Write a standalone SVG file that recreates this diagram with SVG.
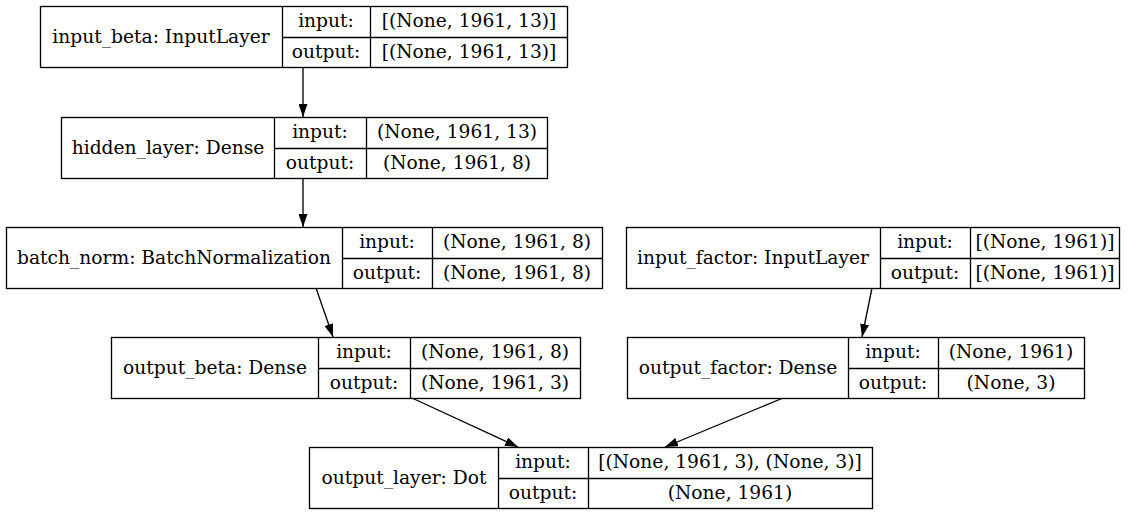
<svg xmlns="http://www.w3.org/2000/svg" width="1137" height="516" viewBox="0 0 1137 516">
<style>
.b{fill:#fff;stroke:#000;stroke-width:1.33}
.l{stroke:#000;stroke-width:1.33;fill:none}
text{font-family:"DejaVu Serif",serif;font-size:18.67px;text-anchor:middle;fill:#000}
.e{stroke:#000;stroke-width:1.33;fill:none;marker-end:url(#ah)}
</style>
<defs>
<marker id="ah" viewBox="0 0 13 9" refX="13" refY="4.5" markerWidth="13" markerHeight="9" markerUnits="userSpaceOnUse" orient="auto">
<path d="M0,0 L13,4.5 L0,9 Z" fill="#000"/>
</marker>
</defs>
<rect width="1137" height="516" fill="#fff"/>
<g id="connectors">
<line class="e" x1="303" y1="67" x2="303" y2="117"/>
<line class="e" x1="303" y1="178" x2="303" y2="227"/>
<line class="e" x1="316" y1="288" x2="333" y2="337"/>
<line class="e" x1="872" y1="288" x2="862" y2="337"/>
<line class="e" x1="412" y1="398" x2="518" y2="447"/>
<line class="e" x1="783" y1="398" x2="665" y2="447"/>
</g>
<g id="input_beta">
<rect class="b" x="40.5" y="6.5" width="527" height="61"/>
<path class="l" d="M282.5,6.5V67.5M370.5,6.5V67.5M282.5,37.5H567.5"/>
<text x="161" y="43">input_beta: InputLayer</text>
<text x="326" y="27">input:</text>
<text x="326" y="58">output:</text>
<text x="469" y="27">[(None, 1961, 13)]</text>
<text x="469" y="58">[(None, 1961, 13)]</text>
</g>
<g id="hidden_layer">
<rect class="b" x="61.5" y="117.5" width="486" height="61"/>
<path class="l" d="M274.5,117.5V178.5M366.5,117.5V178.5M274.5,148.5H547.5"/>
<text x="168" y="154">hidden_layer: Dense</text>
<text x="320" y="138">input:</text>
<text x="320" y="169">output:</text>
<text x="457" y="138">(None, 1961, 13)</text>
<text x="457" y="169">(None, 1961, 8)</text>
</g>
<g id="batch_norm">
<rect class="b" x="6.5" y="227.5" width="596" height="61"/>
<path class="l" d="M342.5,227.5V288.5M432.5,227.5V288.5M342.5,258.5H602.5"/>
<text x="174" y="264">batch_norm: BatchNormalization</text>
<text x="387" y="248">input:</text>
<text x="387" y="279">output:</text>
<text x="517" y="248">(None, 1961, 8)</text>
<text x="517" y="279">(None, 1961, 8)</text>
</g>
<g id="input_factor">
<rect class="b" x="626.5" y="227.5" width="493" height="61"/>
<path class="l" d="M880.5,227.5V288.5M970.5,227.5V288.5M880.5,258.5H1119.5"/>
<text x="753" y="264">input_factor: InputLayer</text>
<text x="925" y="248">input:</text>
<text x="925" y="279">output:</text>
<text x="1045" y="248">[(None, 1961)]</text>
<text x="1045" y="279">[(None, 1961)]</text>
</g>
<g id="output_beta">
<rect class="b" x="111.5" y="337.5" width="469" height="61"/>
<path class="l" d="M318.5,337.5V398.5M410.5,337.5V398.5M318.5,368.5H580.5"/>
<text x="215" y="374">output_beta: Dense</text>
<text x="364" y="358">input:</text>
<text x="364" y="389">output:</text>
<text x="495" y="358">(None, 1961, 8)</text>
<text x="495" y="389">(None, 1961, 3)</text>
</g>
<g id="output_factor">
<rect class="b" x="627.5" y="337.5" width="457" height="61"/>
<path class="l" d="M848.5,337.5V398.5M938.5,337.5V398.5M848.5,368.5H1084.5"/>
<text x="738" y="374">output_factor: Dense</text>
<text x="893" y="358">input:</text>
<text x="893" y="389">output:</text>
<text x="1011" y="358">(None, 1961)</text>
<text x="1011" y="389">(None, 3)</text>
</g>
<g id="output_layer">
<rect class="b" x="309.5" y="447.5" width="563" height="61"/>
<path class="l" d="M498.5,447.5V508.5M588.5,447.5V508.5M498.5,478.5H872.5"/>
<text x="404" y="484">output_layer: Dot</text>
<text x="543" y="468">input:</text>
<text x="543" y="499">output:</text>
<text x="730" y="468">[(None, 1961, 3), (None, 3)]</text>
<text x="730" y="499">(None, 1961)</text>
</g>
</svg>
